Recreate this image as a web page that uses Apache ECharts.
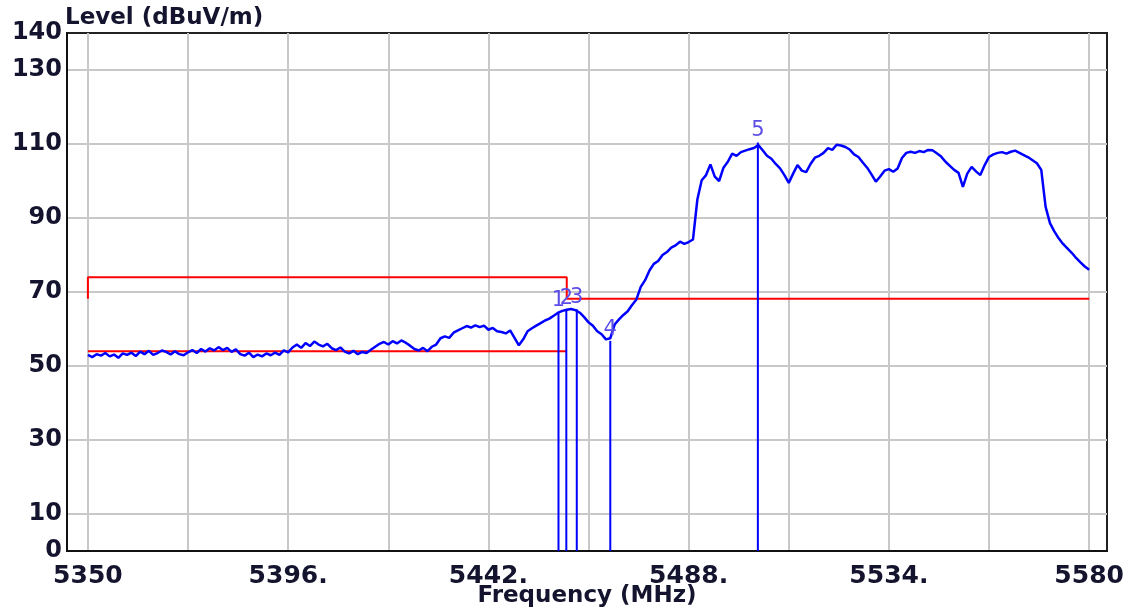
<!DOCTYPE html>
<html>
<head>
<meta charset="utf-8">
<script src="https://cdn.jsdelivr.net/npm/echarts@6/dist/echarts.min.js"></script>
<style>
  html, body { margin: 0; padding: 0; background: #fff; }
  #chart { width: 1134px; height: 611px; }
</style>
</head>
<body>
<div id="chart"></div>
<script>
// sweep: one reading per MHz from 5350 to 5580
var startFreq = 5350;
var stepFreq = 1;
var levels = [
  53.0, 52.4, 53.2, 52.8, 53.5, 52.6, 53.1, 52.2, 53.4, 53.0,
  53.6, 52.7, 53.9, 53.2, 54.1, 53.0, 53.5, 54.2, 53.8, 53.1,
  54.0, 53.2, 52.9, 53.7, 54.3, 53.5, 54.6, 53.9, 54.8, 54.2,
  55.1, 54.3, 54.9, 53.8, 54.5, 53.2, 52.8, 53.6, 52.4, 53.1,
  52.6, 53.4, 52.9, 53.6, 53.0, 54.2, 53.7, 55.0, 55.8, 54.9,
  56.2, 55.4, 56.6, 55.8, 55.3, 56.0, 54.8, 54.3, 55.0, 53.9,
  53.4, 54.1, 53.2, 53.8, 53.5, 54.4, 55.2, 56.0, 56.5, 55.8,
  56.7, 56.1, 56.9, 56.3, 55.5, 54.6, 54.2, 54.9, 54.0, 55.2,
  55.8, 57.5, 58.0, 57.6, 59.0, 59.6, 60.2, 60.8, 60.4, 61.0,
  60.5, 60.9, 59.8, 60.3, 59.4, 59.2, 58.8, 59.6, 57.6, 55.6,
  57.2, 59.4, 60.2, 60.9, 61.6, 62.3, 62.8, 63.6, 64.4, 64.9,
  65.2, 65.4, 65.1, 64.4, 63.2, 61.8, 60.9, 59.4, 58.6, 57.2,
  57.5, 61.2, 62.6, 63.8, 64.8, 66.5, 68.0, 71.4, 73.2, 75.8,
  77.6, 78.4, 80.0, 80.8, 82.0, 82.6, 83.6, 83.0, 83.5, 84.2,
  95.0, 100.2, 101.6, 104.5, 101.2, 100.0, 103.6, 105.2, 107.4, 106.8,
  107.8, 108.2, 108.6, 108.9, 109.7, 108.3, 106.8, 106.0, 104.6, 103.4,
  101.6, 99.5, 102.0, 104.3, 102.8, 102.4, 104.6, 106.3, 106.8, 107.6,
  108.9, 108.4, 109.8, 109.6, 109.2, 108.5, 107.2, 106.5, 105.0, 103.6,
  101.8, 99.8, 101.2, 102.8, 103.2, 102.5, 103.4, 106.2, 107.6, 107.9,
  107.6, 108.1, 107.8, 108.4, 108.3, 107.5, 106.6, 105.2, 104.1, 103.0,
  102.2, 98.4, 102.0, 103.8, 102.6, 101.6, 104.3, 106.5, 107.2, 107.6,
  107.8, 107.4, 107.9, 108.2, 107.6, 107.0, 106.4, 105.6, 104.8, 103.0,
  93.0, 88.6, 86.4, 84.5, 83.0, 81.8, 80.6, 79.2, 78.0, 76.9,
  76.0
];

// markers 1..5
var markerNames = ['1', '2', '3', '4', '5'];
var markerFreq = [5458.1, 5459.9, 5462.3, 5470.0, 5503.9];
var markerLevel = [64.6, 65.2, 65.3, 56.8, 110.4];

// limit lines
var upperLimitFreq = [5350, 5350, 5460, 5460, 5580];
var upperLimitLevel = [68.2, 74, 74, 68.2, 68.2];
var lowerLimitFreq = [5350, 5460];
var lowerLimitLevel = [54, 54];

// axes
var gridFreq = [5350, 5373, 5396, 5419, 5442, 5465, 5488, 5511, 5534, 5557, 5580];
var labelFreq = [5350, 5396, 5442, 5488, 5534, 5580];
var labelFreqText = ['5350', '5396.', '5442.', '5488.', '5534.', '5580'];
var gridLevel = [10, 30, 50, 70, 90, 110, 130];
var labelLevel = [0, 10, 30, 50, 70, 90, 110, 130, 140];

function pairs(xs, ys) {
  return xs.map(function (x, i) { return [x, ys[i]]; });
}

var traceData = levels.map(function (v, i) { return [startFreq + i * stepFreq, v]; });

var chartDom = document.getElementById('chart');
var myChart = echarts.init(chartDom);
var option;

var fontFam = '"DejaVu Sans", Verdana, sans-serif';
var textColor = '#14142e';

option = {
  backgroundColor: '#fff',
  animation: false,
  title: {
    text: 'Level (dBuV/m)',
    left: 65,
    top: 7,
    padding: 0,
    textStyle: { fontFamily: fontFam, fontSize: 23, fontWeight: 'bold', color: textColor }
  },
  grid: {
    left: 67,
    right: 27,
    top: 33,
    bottom: 60,
    containLabel: false,
    outerBoundsMode: 'none',
    show: true,
    borderColor: '#222',
    borderWidth: 2
  },
  xAxis: {
    type: 'value',
    min: 5345.2,
    max: 5584.1,
    name: 'Frequency (MHz)',
    nameLocation: 'middle',
    nameGap: 34,
    nameMoveOverlap: false,
    nameTextStyle: { fontFamily: fontFam, fontSize: 23, fontWeight: 'bold', color: textColor },
    axisLine: { show: true, lineStyle: { color: '#111', width: 2 } },
    axisTick: { show: false, customValues: gridFreq },
    axisLabel: {
      customValues: labelFreq,
      margin: 13,
      fontFamily: fontFam,
      fontSize: 25,
      fontWeight: 'bold',
      color: textColor,
      formatter: function (v) {
        var k = labelFreq.indexOf(v);
        return k >= 0 ? labelFreqText[k] : '';
      }
    },
    splitLine: { show: true, lineStyle: { color: '#c8c8c8', width: 2 } }
  },
  yAxis: {
    type: 'value',
    min: 0,
    max: 140,
    axisLine: { show: true, lineStyle: { color: '#111', width: 2 } },
    axisTick: { show: false, customValues: gridLevel },
    axisLabel: {
      customValues: labelLevel,
      margin: 5,
      fontFamily: fontFam,
      fontSize: 24,
      fontWeight: 'bold',
      color: textColor
    },
    splitLine: { show: true, lineStyle: { color: '#c8c8c8', width: 2 } }
  },
  series: [
    {
      name: 'upper limit',
      type: 'line',
      data: pairs(upperLimitFreq, upperLimitLevel),
      symbol: 'none',
      lineStyle: { color: '#ff0000', width: 2 },
      z: 3
    },
    {
      name: 'lower limit',
      type: 'line',
      data: pairs(lowerLimitFreq, lowerLimitLevel),
      symbol: 'none',
      lineStyle: { color: '#ff0000', width: 2 },
      z: 3
    },
    {
      name: 'level',
      type: 'line',
      data: traceData,
      symbol: 'none',
      lineStyle: { color: '#0000ff', width: 2.5 },
      z: 4
    },
    {
      name: 'markers',
      type: 'bar',
      data: pairs(markerFreq, markerLevel),
      barWidth: 2,
      itemStyle: { color: '#0000ff' },
      label: {
        show: true,
        position: 'top',
        distance: 1,
        fontFamily: fontFam,
        fontSize: 21,
        color: '#5b4de6',
        formatter: function (p) { return markerNames[p.dataIndex]; }
      },
      z: 5
    }
  ]
};

option && myChart.setOption(option);
window.addEventListener('resize', function () {
  myChart.resize();
});
</script>
</body>
</html>
